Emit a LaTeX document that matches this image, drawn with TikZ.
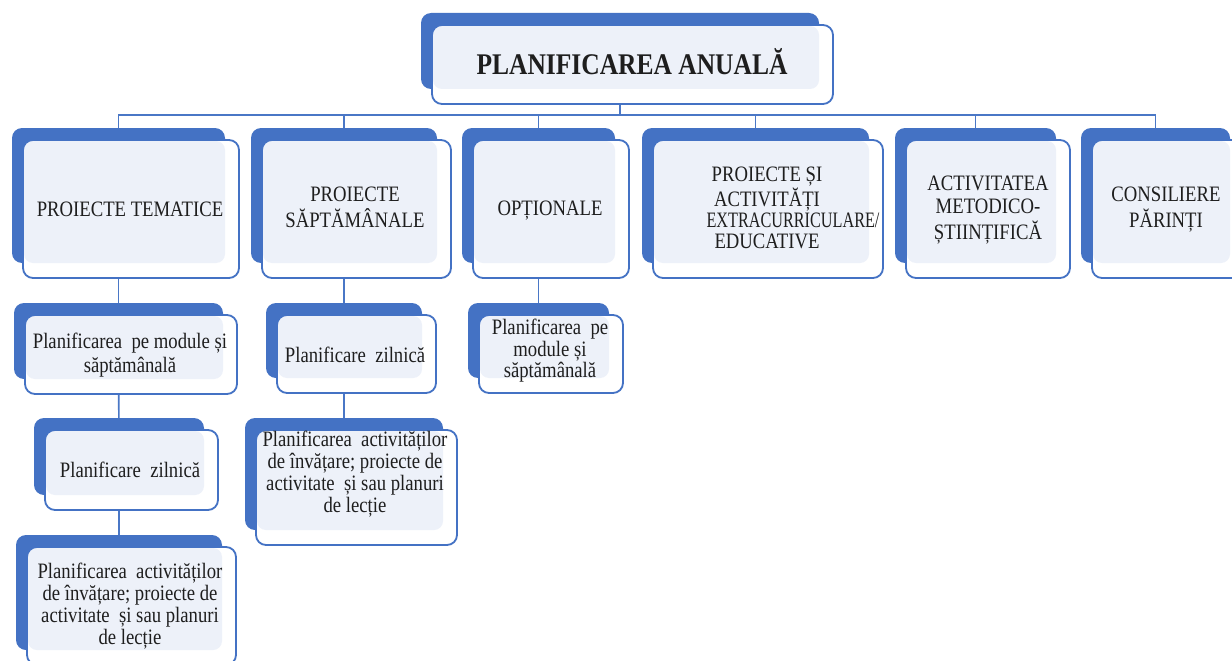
\documentclass[tikz,border=0pt]{standalone}
\usepackage{fontspec}
\setmainfont{Liberation Serif}[FakeStretch=0.85]
\usepackage{graphicx}
\usetikzlibrary{backgrounds}
\definecolor{boxblue}{HTML}{4472C4}
\definecolor{lightbox}{HTML}{EDF1F9}
\definecolor{lineblue}{HTML}{4A77C6}
\definecolor{txtcol}{HTML}{1E1E1E}
\newcommand\tb[3]{{\fontsize{#1}{#2}\selectfont\begin{tabular}{@{}c@{}}#3\end{tabular}}}
\tikzset{
  backbox/.style={fill=boxblue,draw=none,rounded corners=10pt,inner sep=0pt,outer sep=0pt},
  frontfill/.style={fill=white,draw=none,rounded corners=10pt,inner sep=0pt,outer sep=0pt},
  frontline/.style={draw=boxblue,line width=1.8pt,rounded corners=10pt,inner sep=0pt,outer sep=0pt},
  lightfill/.style={fill=lightbox,rounded corners=9pt},
  conn/.style={draw=lineblue,line width=1.6pt},
  txt/.style={inner sep=0pt,outer sep=0pt,text=txtcol,anchor=center}
}
% name, back x1, y1, x2, y2
\newcommand\dbox[5]{%
  \node[backbox,minimum width={(#4-#2)*1pt},minimum height={(#5-#3)*1pt}] (#1b) at ({(#2+#4)/2},{(#3+#5)/2}) {};
  \node[frontfill,minimum width={(#4-#2+3)*1pt},minimum height={(#5-#3+3)*1pt}] (#1) at ({(#2+#4)/2+12.5},{(#3+#5)/2+13.5}) {};
  \fill[lightfill] ({#2+12},{#3+13}) rectangle (#4,#5);
  \node[frontline,minimum width={(#4-#2+3)*1pt},minimum height={(#5-#3+3)*1pt}] at (#1.center) {};
}
\begin{document}
\begin{tikzpicture}[x=1pt,y=-1pt]
\useasboundingbox (0,0) rectangle (1232,661);
\begin{scope}[on background layer]
  \fill[white] (0,0) rectangle (1232,661);
\end{scope}
\clip (0,0) rectangle (1232,661);
\coordinate (bus) at (0,115);

% top
\dbox{top}{421}{13}{819}{89}
\node[txt] (ttop) at (632,66.2) {\tb{30}{34}{\bfseries PLANIFICAREA ANUALĂ}};

% first row
\dbox{b1}{12}{128}{225}{263}
\node[txt] (tb1) at (130,211.4) {\tb{22}{23}{PROIECTE TEMATICE}};
\dbox{b2}{251}{128}{437}{263}
\node[txt] (tb2) at (355,210) {\tb{22}{24}{PROIECTE\\ SĂPTĂMÂNALE}};
\dbox{b3}{462}{128}{615}{263}
\node[txt] (tb3) at (550,210.4) {\tb{22}{23}{OPȚIONALE}};
\dbox{b4}{642}{128}{869}{263}
\node[txt] (tb4) at (767,210.7) {\tb{22}{21.3}{PROIECTE ȘI\\ ACTIVITĂȚI\\ \hspace*{52pt}\scalebox{0.867}[1]{EXTRACURRICULARE/}\\ EDUCATIVE}};
\dbox{b5}{895}{128}{1056}{263}
\node[txt] (tb5) at (988,210.4) {\tb{22}{23}{ACTIVITATEA\\ METODICO-\\ ȘTIINȚIFICĂ}};
\dbox{b6}{1081}{128}{1230}{263}
\node[txt] (tb6) at (1166,210) {\tb{22}{24}{CONSILIERE\\ PĂRINȚI}};

% left column
\dbox{l1}{14}{303}{223}{379}
\node[txt] (tl1) at (130,355.2) {\tb{22}{24}{Planificarea\ \ pe module și\\ săptămânală}};
\dbox{l2}{34}{418}{204}{495}
\node[txt] (tl2) at (130,472.4) {\tb{22}{23}{Planificare\ \ zilnică}};
\dbox{l3}{16}{535}{222}{650}
\node[txt] (tl3) at (130,607) {\tb{22}{22.3}{Planificarea\ \ activităților\\ de învățare; proiecte de\\ activitate\ \ și sau planuri\\ de lecție}};

% middle column
\dbox{m1}{266}{303}{422}{378}
\node[txt] (tm1) at (355,357.4) {\tb{22}{23}{Planificare\ \ zilnică}};
\dbox{m2}{245}{418}{443}{530}
\node[txt] (tm2) at (355,475) {\tb{22}{21.7}{Planificarea\ \ activităților\\ de învățare; proiecte de\\ activitate\ \ și sau planuri\\ de lecție}};

% optional column
\dbox{o1}{468}{303}{609}{378}
\node[txt] (to1) at (550,351.8) {\tb{22}{21}{Planificarea\ \ pe\\ module și\\ săptămânală}};

\begin{scope}[on background layer]
  \foreach \c in {b1b,b2b,b3b,b4b,b5b,b6b}
    \draw[conn] (topb.center) -- (topb.center |- bus) -| (\c.center);
  \draw[conn] (b1b.center) -- (l1b.center);
  \draw[conn] (l1b.center) -- (l2b.center);
  \draw[conn] (l2b.center) -- (l3b.center);
  \draw[conn] (b2b.center) -- (m1b.center);
  \draw[conn] (m1b.center) -- (m2b.center);
  \draw[conn] (b3b.center) -- (o1b.center);
\end{scope}
\end{tikzpicture}
\end{document}
